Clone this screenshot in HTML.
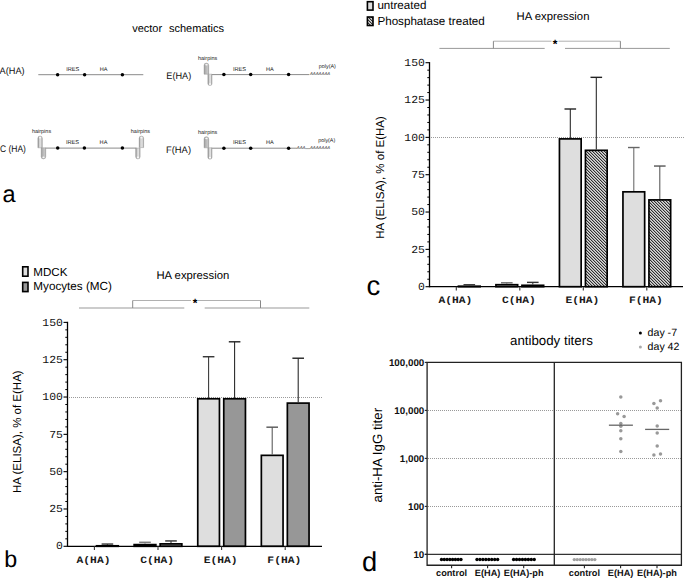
<!DOCTYPE html>
<html><head><meta charset="utf-8"><style>
html,body{margin:0;padding:0;background:#fff;}
body{width:685px;height:579px;overflow:hidden;}
svg{display:block;}

</style></head><body>
<svg width="685" height="579" viewBox="0 0 685 579" style="text-rendering:geometricPrecision">
<rect width="685" height="579" fill="#fff"/>
<text x="132.20" y="31.70" font-size="11" text-anchor="start" font-weight="normal" font-family='"Liberation Sans", sans-serif' fill="#000" >vector</text>
<text x="169.00" y="31.70" font-size="11" text-anchor="start" font-weight="normal" font-family='"Liberation Sans", sans-serif' fill="#000" >schematics</text>
<defs><linearGradient id="hpl" x1="0" x2="1" y1="0" y2="0"><stop offset="0" stop-color="#7a7a7a"/><stop offset="0.3" stop-color="#d0d0d0"/><stop offset="0.7" stop-color="#e4e4e4"/><stop offset="1" stop-color="#909090"/></linearGradient><linearGradient id="hpd" x1="0" x2="1" y1="0" y2="0"><stop offset="0" stop-color="#8c8c8c"/><stop offset="0.35" stop-color="#b8b8b8"/><stop offset="0.75" stop-color="#c4c4c4"/><stop offset="1" stop-color="#9a9a9a"/></linearGradient></defs>
<text x="-0.40" y="73.80" font-size="9.5" textLength="25.00" lengthAdjust="spacingAndGlyphs" font-family='"Liberation Sans", sans-serif' fill="#111">A(HA)</text>
<line x1="38.30" y1="74.70" x2="143.30" y2="74.70" stroke="#8a8a8a" stroke-width="1" />
<circle cx="57.60" cy="74.70" r="1.75" fill="#000"/>
<circle cx="84.60" cy="74.70" r="1.75" fill="#000"/>
<circle cx="122.40" cy="74.70" r="1.75" fill="#000"/>
<text x="66.20" y="70.80" font-size="5.6" text-anchor="start" font-weight="normal" font-family='"Liberation Sans", sans-serif' fill="#222" >IRES</text>
<text x="99.70" y="70.80" font-size="5.6" text-anchor="start" font-weight="normal" font-family='"Liberation Sans", sans-serif' fill="#222" >HA</text>
<text x="-0.10" y="152.00" font-size="9.5" textLength="26.00" lengthAdjust="spacingAndGlyphs" font-family='"Liberation Sans", sans-serif' fill="#111">C (HA)</text>
<line x1="45.50" y1="148.10" x2="136.50" y2="148.10" stroke="#8a8a8a" stroke-width="1" />
<circle cx="57.70" cy="148.10" r="1.75" fill="#000"/>
<circle cx="84.40" cy="148.10" r="1.75" fill="#000"/>
<circle cx="122.40" cy="148.10" r="1.75" fill="#000"/>
<text x="66.00" y="144.00" font-size="5.6" text-anchor="start" font-weight="normal" font-family='"Liberation Sans", sans-serif' fill="#222" >IRES</text>
<text x="99.60" y="144.00" font-size="5.6" text-anchor="start" font-weight="normal" font-family='"Liberation Sans", sans-serif' fill="#222" >HA</text>
<path d="M37.90,147.80 V138.30 A2.20,2.20 0 0 1 42.30,138.30 V147.80 Z" fill="url(#hpl)" stroke="#9a9a9a" stroke-width="0.5"/>
<ellipse cx="40.10" cy="137.80" rx="1.14" ry="0.75" fill="#fff" opacity="0.9"/>
<path d="M41.20,147.80 V156.65 A2.25,2.25 0 0 0 45.70,156.65 V147.80 Z" fill="url(#hpd)" stroke="#9a9a9a" stroke-width="0.5"/>
<ellipse cx="43.45" cy="157.20" rx="1.17" ry="0.75" fill="#fff" opacity="0.9"/>
<path d="M135.70,148.10 V156.70 A2.20,2.20 0 0 0 140.10,156.70 V148.10 Z" fill="url(#hpl)" stroke="#9a9a9a" stroke-width="0.5"/>
<ellipse cx="137.90" cy="157.20" rx="1.14" ry="0.75" fill="#fff" opacity="0.9"/>
<path d="M139.20,147.60 V138.30 A2.20,2.20 0 0 1 143.60,138.30 V147.60 Z" fill="url(#hpl)" stroke="#9a9a9a" stroke-width="0.5"/>
<ellipse cx="141.40" cy="137.80" rx="1.14" ry="0.75" fill="#fff" opacity="0.9"/>
<text x="31.90" y="133.10" font-size="5.5" text-anchor="start" font-weight="normal" font-family='"Liberation Sans", sans-serif' fill="#222" >hairpins</text>
<text x="130.80" y="132.80" font-size="5.5" text-anchor="start" font-weight="normal" font-family='"Liberation Sans", sans-serif' fill="#222" >hairpins</text>
<text x="166.30" y="78.90" font-size="9.5" textLength="25.00" lengthAdjust="spacingAndGlyphs" font-family='"Liberation Sans", sans-serif' fill="#111">E(HA)</text>
<line x1="211.80" y1="74.60" x2="309.30" y2="74.60" stroke="#8a8a8a" stroke-width="1" />
<circle cx="223.90" cy="74.60" r="1.75" fill="#000"/>
<circle cx="250.70" cy="74.60" r="1.75" fill="#000"/>
<circle cx="288.60" cy="74.60" r="1.75" fill="#000"/>
<text x="233.00" y="70.80" font-size="5.6" text-anchor="start" font-weight="normal" font-family='"Liberation Sans", sans-serif' fill="#222" >IRES</text>
<text x="265.90" y="70.80" font-size="5.6" text-anchor="start" font-weight="normal" font-family='"Liberation Sans", sans-serif' fill="#222" >HA</text>
<path d="M204.10,74.20 V65.40 A2.30,2.30 0 0 1 208.70,65.40 V74.20 Z" fill="url(#hpd)" stroke="#9a9a9a" stroke-width="0.5"/>
<ellipse cx="206.40" cy="64.80" rx="1.20" ry="0.75" fill="#fff" opacity="0.9"/>
<path d="M207.90,74.20 V83.55 A2.05,2.05 0 0 0 212.00,83.55 V74.20 Z" fill="url(#hpl)" stroke="#9a9a9a" stroke-width="0.5"/>
<ellipse cx="209.95" cy="83.90" rx="1.07" ry="0.75" fill="#fff" opacity="0.9"/>
<text x="198.00" y="59.90" font-size="5.5" text-anchor="start" font-weight="normal" font-family='"Liberation Sans", sans-serif' fill="#222" >hairpins</text>
<text x="318.80" y="68.10" font-size="5.4" text-anchor="start" font-weight="normal" font-family='"Liberation Sans", sans-serif' fill="#222" >poly(A)</text>
<text x="309.90" y="75.40" font-size="4.35" text-anchor="start" font-weight="normal" font-family='"Liberation Sans", sans-serif' fill="#444" font-style="italic">AAAAAAA</text>
<text x="166.00" y="152.50" font-size="9.5" textLength="25.00" lengthAdjust="spacingAndGlyphs" font-family='"Liberation Sans", sans-serif' fill="#111">F(HA)</text>
<line x1="211.80" y1="148.20" x2="296.80" y2="148.20" stroke="#8a8a8a" stroke-width="1" />
<line x1="305.30" y1="148.60" x2="309.90" y2="148.60" stroke="#8a8a8a" stroke-width="0.8" />
<circle cx="223.90" cy="148.20" r="1.75" fill="#000"/>
<circle cx="250.70" cy="148.20" r="1.75" fill="#000"/>
<circle cx="288.60" cy="148.20" r="1.75" fill="#000"/>
<text x="233.00" y="144.40" font-size="5.6" text-anchor="start" font-weight="normal" font-family='"Liberation Sans", sans-serif' fill="#222" >IRES</text>
<text x="265.90" y="144.40" font-size="5.6" text-anchor="start" font-weight="normal" font-family='"Liberation Sans", sans-serif' fill="#222" >HA</text>
<path d="M204.10,147.80 V139.00 A2.30,2.30 0 0 1 208.70,139.00 V147.80 Z" fill="url(#hpd)" stroke="#9a9a9a" stroke-width="0.5"/>
<ellipse cx="206.40" cy="138.40" rx="1.20" ry="0.75" fill="#fff" opacity="0.9"/>
<path d="M207.90,147.80 V157.15 A2.05,2.05 0 0 0 212.00,157.15 V147.80 Z" fill="url(#hpl)" stroke="#9a9a9a" stroke-width="0.5"/>
<ellipse cx="209.95" cy="157.50" rx="1.07" ry="0.75" fill="#fff" opacity="0.9"/>
<text x="198.00" y="133.50" font-size="5.5" text-anchor="start" font-weight="normal" font-family='"Liberation Sans", sans-serif' fill="#222" >hairpins</text>
<text x="318.20" y="142.30" font-size="5.4" text-anchor="start" font-weight="normal" font-family='"Liberation Sans", sans-serif' fill="#222" >poly(A)</text>
<text x="296.80" y="149.00" font-size="4.35" text-anchor="start" font-weight="normal" font-family='"Liberation Sans", sans-serif' fill="#444" font-style="italic">AAA</text>
<text x="309.90" y="149.00" font-size="4.35" text-anchor="start" font-weight="normal" font-family='"Liberation Sans", sans-serif' fill="#444" font-style="italic">AAAAAAA</text>
<text x="2.50" y="201.80" font-size="23.5" text-anchor="start" font-weight="normal" font-family='"Liberation Sans", sans-serif' fill="#000" >a</text>
<defs><pattern id="hatch" patternUnits="userSpaceOnUse" x="0" y="0" width="3" height="3"><rect width="3" height="3" fill="#dadada"/><rect x="0" y="0" width="1" height="1" fill="#303030"/><rect x="1" y="1" width="1" height="1" fill="#303030"/><rect x="2" y="2" width="1" height="1" fill="#303030"/><rect x="1" y="0" width="1" height="1" fill="#a4a4a4"/><rect x="2" y="1" width="1" height="1" fill="#a4a4a4"/><rect x="0" y="2" width="1" height="1" fill="#a4a4a4"/></pattern></defs>
<path d="M431,137.5 H685.0" stroke="#9a9a9a" stroke-width="1" stroke-dasharray="1 1" fill="none"/>
<rect x="458.45" y="286.21" width="21.70" height="0.49" fill="url(#hatch)" stroke="#000" stroke-width="1.7" />
<line x1="469.30" y1="285.36" x2="469.30" y2="284.76" stroke="#333" stroke-width="1.05" />
<line x1="463.50" y1="284.76" x2="475.10" y2="284.76" stroke="#333" stroke-width="1.4" />
<rect x="495.95" y="284.71" width="21.70" height="1.99" fill="#dedede" stroke="#000" stroke-width="1.7" />
<line x1="506.80" y1="283.86" x2="506.80" y2="282.82" stroke="#666" stroke-width="1.05" />
<line x1="501.00" y1="282.82" x2="512.60" y2="282.82" stroke="#666" stroke-width="1.4" />
<rect x="521.95" y="285.31" width="21.70" height="1.39" fill="url(#hatch)" stroke="#000" stroke-width="1.7" />
<line x1="532.80" y1="284.46" x2="532.80" y2="282.37" stroke="#333" stroke-width="1.05" />
<line x1="527.00" y1="282.37" x2="538.60" y2="282.37" stroke="#333" stroke-width="1.4" />
<rect x="559.45" y="138.89" width="21.70" height="147.81" fill="#dedede" stroke="#000" stroke-width="1.7" />
<line x1="570.30" y1="138.04" x2="570.30" y2="109.00" stroke="#222" stroke-width="1.05" />
<line x1="564.50" y1="109.00" x2="576.10" y2="109.00" stroke="#222" stroke-width="1.4" />
<rect x="585.45" y="150.32" width="21.70" height="136.38" fill="url(#hatch)" stroke="#000" stroke-width="1.7" />
<line x1="596.30" y1="149.47" x2="596.30" y2="77.34" stroke="#222" stroke-width="1.05" />
<line x1="590.50" y1="77.34" x2="602.10" y2="77.34" stroke="#222" stroke-width="1.4" />
<rect x="622.95" y="191.83" width="21.70" height="94.87" fill="#dedede" stroke="#000" stroke-width="1.7" />
<line x1="633.80" y1="190.98" x2="633.80" y2="147.52" stroke="#666" stroke-width="1.05" />
<line x1="628.00" y1="147.52" x2="639.60" y2="147.52" stroke="#666" stroke-width="1.4" />
<rect x="648.95" y="199.89" width="21.70" height="86.81" fill="url(#hatch)" stroke="#000" stroke-width="1.7" />
<line x1="659.80" y1="199.04" x2="659.80" y2="166.04" stroke="#555" stroke-width="1.05" />
<line x1="654.00" y1="166.04" x2="665.60" y2="166.04" stroke="#555" stroke-width="1.4" />
<line x1="429.50" y1="286.70" x2="683.00" y2="286.70" stroke="#000" stroke-width="1.3" />
<line x1="429.50" y1="62.10" x2="429.50" y2="287.30" stroke="#000" stroke-width="1.3" />
<line x1="425.50" y1="286.70" x2="429.50" y2="286.70" stroke="#000" stroke-width="1.1" />
<text transform="translate(424.90,289.85) scale(1.06,1)" font-size="10.8" text-anchor="end" font-family='"Liberation Mono", monospace' fill="#111">0</text>
<line x1="427.30" y1="279.23" x2="429.50" y2="279.23" stroke="#000" stroke-width="1.0" />
<line x1="427.30" y1="271.77" x2="429.50" y2="271.77" stroke="#000" stroke-width="1.0" />
<line x1="427.30" y1="264.30" x2="429.50" y2="264.30" stroke="#000" stroke-width="1.0" />
<line x1="427.30" y1="256.83" x2="429.50" y2="256.83" stroke="#000" stroke-width="1.0" />
<line x1="425.50" y1="249.37" x2="429.50" y2="249.37" stroke="#000" stroke-width="1.1" />
<text transform="translate(424.90,252.52) scale(1.06,1)" font-size="10.8" text-anchor="end" font-family='"Liberation Mono", monospace' fill="#111">25</text>
<line x1="427.30" y1="241.90" x2="429.50" y2="241.90" stroke="#000" stroke-width="1.0" />
<line x1="427.30" y1="234.43" x2="429.50" y2="234.43" stroke="#000" stroke-width="1.0" />
<line x1="427.30" y1="226.97" x2="429.50" y2="226.97" stroke="#000" stroke-width="1.0" />
<line x1="427.30" y1="219.50" x2="429.50" y2="219.50" stroke="#000" stroke-width="1.0" />
<line x1="425.50" y1="212.03" x2="429.50" y2="212.03" stroke="#000" stroke-width="1.1" />
<text transform="translate(424.90,215.18) scale(1.06,1)" font-size="10.8" text-anchor="end" font-family='"Liberation Mono", monospace' fill="#111">50</text>
<line x1="427.30" y1="204.57" x2="429.50" y2="204.57" stroke="#000" stroke-width="1.0" />
<line x1="427.30" y1="197.10" x2="429.50" y2="197.10" stroke="#000" stroke-width="1.0" />
<line x1="427.30" y1="189.64" x2="429.50" y2="189.64" stroke="#000" stroke-width="1.0" />
<line x1="427.30" y1="182.17" x2="429.50" y2="182.17" stroke="#000" stroke-width="1.0" />
<line x1="425.50" y1="174.70" x2="429.50" y2="174.70" stroke="#000" stroke-width="1.1" />
<text transform="translate(424.90,177.85) scale(1.06,1)" font-size="10.8" text-anchor="end" font-family='"Liberation Mono", monospace' fill="#111">75</text>
<line x1="427.30" y1="167.24" x2="429.50" y2="167.24" stroke="#000" stroke-width="1.0" />
<line x1="427.30" y1="159.77" x2="429.50" y2="159.77" stroke="#000" stroke-width="1.0" />
<line x1="427.30" y1="152.30" x2="429.50" y2="152.30" stroke="#000" stroke-width="1.0" />
<line x1="427.30" y1="144.84" x2="429.50" y2="144.84" stroke="#000" stroke-width="1.0" />
<line x1="425.50" y1="137.37" x2="429.50" y2="137.37" stroke="#000" stroke-width="1.1" />
<text transform="translate(424.90,140.52) scale(1.06,1)" font-size="10.8" text-anchor="end" font-family='"Liberation Mono", monospace' fill="#111">100</text>
<line x1="427.30" y1="129.90" x2="429.50" y2="129.90" stroke="#000" stroke-width="1.0" />
<line x1="427.30" y1="122.44" x2="429.50" y2="122.44" stroke="#000" stroke-width="1.0" />
<line x1="427.30" y1="114.97" x2="429.50" y2="114.97" stroke="#000" stroke-width="1.0" />
<line x1="427.30" y1="107.50" x2="429.50" y2="107.50" stroke="#000" stroke-width="1.0" />
<line x1="425.50" y1="100.04" x2="429.50" y2="100.04" stroke="#000" stroke-width="1.1" />
<text transform="translate(424.90,103.19) scale(1.06,1)" font-size="10.8" text-anchor="end" font-family='"Liberation Mono", monospace' fill="#111">125</text>
<line x1="427.30" y1="92.57" x2="429.50" y2="92.57" stroke="#000" stroke-width="1.0" />
<line x1="427.30" y1="85.10" x2="429.50" y2="85.10" stroke="#000" stroke-width="1.0" />
<line x1="427.30" y1="77.64" x2="429.50" y2="77.64" stroke="#000" stroke-width="1.0" />
<line x1="427.30" y1="70.17" x2="429.50" y2="70.17" stroke="#000" stroke-width="1.0" />
<line x1="425.50" y1="62.70" x2="429.50" y2="62.70" stroke="#000" stroke-width="1.1" />
<text transform="translate(424.90,65.85) scale(1.06,1)" font-size="10.8" text-anchor="end" font-family='"Liberation Mono", monospace' fill="#111">150</text>
<line x1="456.30" y1="286.70" x2="456.30" y2="290.50" stroke="#333" stroke-width="1.1" />
<text transform="translate(455.40,303.30) scale(1,0.87)" font-size="11.3" text-anchor="middle" font-weight="bold" font-family='"Liberation Mono", monospace' fill="#1a1a1a">A(HA)</text>
<line x1="519.80" y1="286.70" x2="519.80" y2="290.50" stroke="#333" stroke-width="1.1" />
<text transform="translate(518.90,303.30) scale(1,0.87)" font-size="11.3" text-anchor="middle" font-weight="bold" font-family='"Liberation Mono", monospace' fill="#1a1a1a">C(HA)</text>
<line x1="583.30" y1="286.70" x2="583.30" y2="290.50" stroke="#333" stroke-width="1.1" />
<text transform="translate(582.40,303.30) scale(1,0.87)" font-size="11.3" text-anchor="middle" font-weight="bold" font-family='"Liberation Mono", monospace' fill="#1a1a1a">E(HA)</text>
<line x1="646.80" y1="286.70" x2="646.80" y2="290.50" stroke="#333" stroke-width="1.1" />
<text transform="translate(645.90,303.30) scale(1,0.87)" font-size="11.3" text-anchor="middle" font-weight="bold" font-family='"Liberation Mono", monospace' fill="#1a1a1a">F(HA)</text>
<text x="516.60" y="19.80" font-size="11.3" text-anchor="start" font-weight="normal" font-family='"Liberation Sans", sans-serif' fill="#000" >HA expression</text>
<line x1="439.40" y1="48.40" x2="544.70" y2="48.40" stroke="#999" stroke-width="1" />
<line x1="565.00" y1="48.40" x2="669.80" y2="48.40" stroke="#999" stroke-width="1" />
<line x1="493.40" y1="41.20" x2="551.50" y2="41.20" stroke="#b0b0b0" stroke-width="1" />
<line x1="558.50" y1="41.20" x2="620.40" y2="41.20" stroke="#b0b0b0" stroke-width="1" />
<line x1="493.40" y1="41.20" x2="493.40" y2="48.40" stroke="#888" stroke-width="1" />
<line x1="620.40" y1="41.20" x2="620.40" y2="48.40" stroke="#888" stroke-width="1" />
<text x="555.00" y="47.50" font-size="12" text-anchor="middle" font-weight="bold" font-family='"Liberation Sans", sans-serif' fill="#000" >*</text>
<rect x="367.40" y="1.70" width="5.60" height="8.40" fill="#dedede" stroke="#000" stroke-width="1.6" />
<rect x="367.40" y="17.00" width="5.60" height="8.50" fill="url(#hatch)" stroke="#000" stroke-width="1.6" />
<text x="377.40" y="9.20" font-size="11.6" text-anchor="start" font-weight="normal" font-family='"Liberation Sans", sans-serif' fill="#000" >untreated</text>
<text x="377.40" y="24.50" font-size="11.65" text-anchor="start" font-weight="normal" font-family='"Liberation Sans", sans-serif' fill="#000" >Phosphatase treated</text>
<text transform="translate(383.5,177.5) rotate(-90)" font-size="11.5" text-anchor="middle" font-family='"Liberation Sans", sans-serif'>HA (ELISA), % of E(HA)</text>
<text x="366.60" y="295.00" font-size="27.5" text-anchor="start" font-weight="normal" font-family='"Liberation Sans", sans-serif' fill="#000" >c</text>
<path d="M69,397.5 H322.0" stroke="#9a9a9a" stroke-width="1" stroke-dasharray="1 1" fill="none"/>
<rect x="96.55" y="545.81" width="21.70" height="0.49" fill="#979797" stroke="#000" stroke-width="1.7" />
<line x1="107.40" y1="544.96" x2="107.40" y2="544.06" stroke="#333" stroke-width="1.05" />
<line x1="101.60" y1="544.06" x2="113.20" y2="544.06" stroke="#333" stroke-width="1.4" />
<rect x="134.15" y="544.61" width="21.70" height="1.69" fill="#dedede" stroke="#000" stroke-width="1.7" />
<line x1="145.00" y1="543.76" x2="145.00" y2="542.27" stroke="#777" stroke-width="1.05" />
<line x1="139.20" y1="542.27" x2="150.80" y2="542.27" stroke="#777" stroke-width="1.4" />
<rect x="160.15" y="543.87" width="21.70" height="2.43" fill="#979797" stroke="#000" stroke-width="1.7" />
<line x1="171.00" y1="543.02" x2="171.00" y2="540.93" stroke="#333" stroke-width="1.05" />
<line x1="165.20" y1="540.93" x2="176.80" y2="540.93" stroke="#333" stroke-width="1.4" />
<rect x="197.75" y="398.78" width="21.70" height="147.52" fill="#dedede" stroke="#000" stroke-width="1.7" />
<line x1="208.60" y1="397.93" x2="208.60" y2="356.73" stroke="#333" stroke-width="1.05" />
<line x1="202.80" y1="356.73" x2="214.40" y2="356.73" stroke="#333" stroke-width="1.4" />
<rect x="223.75" y="398.78" width="21.70" height="147.52" fill="#979797" stroke="#000" stroke-width="1.7" />
<line x1="234.60" y1="397.93" x2="234.60" y2="341.80" stroke="#222" stroke-width="1.05" />
<line x1="228.80" y1="341.80" x2="240.40" y2="341.80" stroke="#222" stroke-width="1.4" />
<rect x="261.35" y="455.35" width="21.70" height="90.95" fill="#dedede" stroke="#000" stroke-width="1.7" />
<line x1="272.20" y1="454.50" x2="272.20" y2="427.18" stroke="#555" stroke-width="1.05" />
<line x1="266.40" y1="427.18" x2="278.00" y2="427.18" stroke="#555" stroke-width="1.4" />
<rect x="287.35" y="403.10" width="21.70" height="143.20" fill="#979797" stroke="#000" stroke-width="1.7" />
<line x1="298.20" y1="402.25" x2="298.20" y2="358.22" stroke="#222" stroke-width="1.05" />
<line x1="292.40" y1="358.22" x2="304.00" y2="358.22" stroke="#222" stroke-width="1.4" />
<line x1="67.50" y1="546.30" x2="322.00" y2="546.30" stroke="#000" stroke-width="1.3" />
<line x1="67.50" y1="321.79" x2="67.50" y2="546.90" stroke="#000" stroke-width="1.3" />
<line x1="63.50" y1="546.30" x2="67.50" y2="546.30" stroke="#000" stroke-width="1.1" />
<text transform="translate(62.90,549.45) scale(1.06,1)" font-size="10.8" text-anchor="end" font-family='"Liberation Mono", monospace' fill="#111">0</text>
<line x1="65.30" y1="538.84" x2="67.50" y2="538.84" stroke="#000" stroke-width="1.0" />
<line x1="65.30" y1="531.37" x2="67.50" y2="531.37" stroke="#000" stroke-width="1.0" />
<line x1="65.30" y1="523.91" x2="67.50" y2="523.91" stroke="#000" stroke-width="1.0" />
<line x1="65.30" y1="516.45" x2="67.50" y2="516.45" stroke="#000" stroke-width="1.0" />
<line x1="63.50" y1="508.98" x2="67.50" y2="508.98" stroke="#000" stroke-width="1.1" />
<text transform="translate(62.90,512.13) scale(1.06,1)" font-size="10.8" text-anchor="end" font-family='"Liberation Mono", monospace' fill="#111">25</text>
<line x1="65.30" y1="501.52" x2="67.50" y2="501.52" stroke="#000" stroke-width="1.0" />
<line x1="65.30" y1="494.06" x2="67.50" y2="494.06" stroke="#000" stroke-width="1.0" />
<line x1="65.30" y1="486.59" x2="67.50" y2="486.59" stroke="#000" stroke-width="1.0" />
<line x1="65.30" y1="479.13" x2="67.50" y2="479.13" stroke="#000" stroke-width="1.0" />
<line x1="63.50" y1="471.66" x2="67.50" y2="471.66" stroke="#000" stroke-width="1.1" />
<text transform="translate(62.90,474.81) scale(1.06,1)" font-size="10.8" text-anchor="end" font-family='"Liberation Mono", monospace' fill="#111">50</text>
<line x1="65.30" y1="464.20" x2="67.50" y2="464.20" stroke="#000" stroke-width="1.0" />
<line x1="65.30" y1="456.74" x2="67.50" y2="456.74" stroke="#000" stroke-width="1.0" />
<line x1="65.30" y1="449.27" x2="67.50" y2="449.27" stroke="#000" stroke-width="1.0" />
<line x1="65.30" y1="441.81" x2="67.50" y2="441.81" stroke="#000" stroke-width="1.0" />
<line x1="63.50" y1="434.35" x2="67.50" y2="434.35" stroke="#000" stroke-width="1.1" />
<text transform="translate(62.90,437.50) scale(1.06,1)" font-size="10.8" text-anchor="end" font-family='"Liberation Mono", monospace' fill="#111">75</text>
<line x1="65.30" y1="426.88" x2="67.50" y2="426.88" stroke="#000" stroke-width="1.0" />
<line x1="65.30" y1="419.42" x2="67.50" y2="419.42" stroke="#000" stroke-width="1.0" />
<line x1="65.30" y1="411.96" x2="67.50" y2="411.96" stroke="#000" stroke-width="1.0" />
<line x1="65.30" y1="404.49" x2="67.50" y2="404.49" stroke="#000" stroke-width="1.0" />
<line x1="63.50" y1="397.03" x2="67.50" y2="397.03" stroke="#000" stroke-width="1.1" />
<text transform="translate(62.90,400.18) scale(1.06,1)" font-size="10.8" text-anchor="end" font-family='"Liberation Mono", monospace' fill="#111">100</text>
<line x1="65.30" y1="389.57" x2="67.50" y2="389.57" stroke="#000" stroke-width="1.0" />
<line x1="65.30" y1="382.10" x2="67.50" y2="382.10" stroke="#000" stroke-width="1.0" />
<line x1="65.30" y1="374.64" x2="67.50" y2="374.64" stroke="#000" stroke-width="1.0" />
<line x1="65.30" y1="367.18" x2="67.50" y2="367.18" stroke="#000" stroke-width="1.0" />
<line x1="63.50" y1="359.71" x2="67.50" y2="359.71" stroke="#000" stroke-width="1.1" />
<text transform="translate(62.90,362.86) scale(1.06,1)" font-size="10.8" text-anchor="end" font-family='"Liberation Mono", monospace' fill="#111">125</text>
<line x1="65.30" y1="352.25" x2="67.50" y2="352.25" stroke="#000" stroke-width="1.0" />
<line x1="65.30" y1="344.79" x2="67.50" y2="344.79" stroke="#000" stroke-width="1.0" />
<line x1="65.30" y1="337.32" x2="67.50" y2="337.32" stroke="#000" stroke-width="1.0" />
<line x1="65.30" y1="329.86" x2="67.50" y2="329.86" stroke="#000" stroke-width="1.0" />
<line x1="63.50" y1="322.39" x2="67.50" y2="322.39" stroke="#000" stroke-width="1.1" />
<text transform="translate(62.90,325.54) scale(1.06,1)" font-size="10.8" text-anchor="end" font-family='"Liberation Mono", monospace' fill="#111">150</text>
<line x1="94.40" y1="546.30" x2="94.40" y2="550.10" stroke="#333" stroke-width="1.1" />
<text transform="translate(93.50,562.90) scale(1,0.87)" font-size="11.3" text-anchor="middle" font-weight="bold" font-family='"Liberation Mono", monospace' fill="#1a1a1a">A(HA)</text>
<line x1="158.00" y1="546.30" x2="158.00" y2="550.10" stroke="#333" stroke-width="1.1" />
<text transform="translate(157.10,562.90) scale(1,0.87)" font-size="11.3" text-anchor="middle" font-weight="bold" font-family='"Liberation Mono", monospace' fill="#1a1a1a">C(HA)</text>
<line x1="221.60" y1="546.30" x2="221.60" y2="550.10" stroke="#333" stroke-width="1.1" />
<text transform="translate(220.70,562.90) scale(1,0.87)" font-size="11.3" text-anchor="middle" font-weight="bold" font-family='"Liberation Mono", monospace' fill="#1a1a1a">E(HA)</text>
<line x1="285.20" y1="546.30" x2="285.20" y2="550.10" stroke="#333" stroke-width="1.1" />
<text transform="translate(284.30,562.90) scale(1,0.87)" font-size="11.3" text-anchor="middle" font-weight="bold" font-family='"Liberation Mono", monospace' fill="#1a1a1a">F(HA)</text>
<text x="156.40" y="279.30" font-size="11.3" text-anchor="start" font-weight="normal" font-family='"Liberation Sans", sans-serif' fill="#000" >HA expression</text>
<line x1="79.00" y1="308.00" x2="184.30" y2="308.00" stroke="#999" stroke-width="1" />
<line x1="204.70" y1="308.00" x2="309.30" y2="308.00" stroke="#999" stroke-width="1" />
<line x1="132.70" y1="300.50" x2="191.00" y2="300.50" stroke="#b0b0b0" stroke-width="1" />
<line x1="198.00" y1="300.50" x2="260.50" y2="300.50" stroke="#b0b0b0" stroke-width="1" />
<line x1="132.70" y1="300.50" x2="132.70" y2="308.00" stroke="#888" stroke-width="1" />
<line x1="260.50" y1="300.50" x2="260.50" y2="308.00" stroke="#888" stroke-width="1" />
<text x="195.00" y="306.70" font-size="12" text-anchor="middle" font-weight="bold" font-family='"Liberation Sans", sans-serif' fill="#000" >*</text>
<rect x="22.70" y="266.80" width="5.30" height="9.40" fill="#dedede" stroke="#000" stroke-width="1.6" />
<rect x="22.70" y="282.40" width="5.30" height="9.20" fill="#979797" stroke="#000" stroke-width="1.6" />
<text x="33.30" y="275.50" font-size="11.6" text-anchor="start" font-weight="normal" font-family='"Liberation Sans", sans-serif' fill="#000" >MDCK</text>
<text x="33.30" y="290.00" font-size="11.7" text-anchor="start" font-weight="normal" font-family='"Liberation Sans", sans-serif' fill="#000" >Myocytes (MC)</text>
<text transform="translate(21.3,431.7) rotate(-90)" font-size="11.5" text-anchor="middle" font-family='"Liberation Sans", sans-serif'>HA (ELISA), % of E(HA)</text>
<text x="4.30" y="567.40" font-size="23.3" text-anchor="start" font-weight="normal" font-family='"Liberation Sans", sans-serif' fill="#000" >b</text>
<path d="M428,506.5 H681" stroke="#999" stroke-width="1" stroke-dasharray="1 1" stroke-dashoffset="0" fill="none"/>
<path d="M428,458.5 H681" stroke="#999" stroke-width="1" stroke-dasharray="1 1" stroke-dashoffset="0" fill="none"/>
<path d="M428,410.5 H681" stroke="#999" stroke-width="1" stroke-dasharray="1 1" stroke-dashoffset="0" fill="none"/>
<line x1="424.80" y1="554.40" x2="681.40" y2="554.40" stroke="#333" stroke-width="1.1" />
<path d="M427.1,362.45 H681.4 V565.25 H427.1 Z" fill="none" stroke="#222" stroke-width="1.3"/>
<line x1="554.30" y1="362.45" x2="554.30" y2="565.25" stroke="#222" stroke-width="1.3" />
<line x1="424.80" y1="362.40" x2="427.10" y2="362.40" stroke="#222" stroke-width="1.1" />
<text x="424.30" y="365.85" font-size="9.8" text-anchor="end" font-weight="bold" font-family='"Liberation Sans", sans-serif' fill="#111" >100,000</text>
<line x1="424.80" y1="410.40" x2="427.10" y2="410.40" stroke="#222" stroke-width="1.1" />
<text x="424.30" y="413.85" font-size="9.8" text-anchor="end" font-weight="bold" font-family='"Liberation Sans", sans-serif' fill="#111" >10,000</text>
<line x1="424.80" y1="458.40" x2="427.10" y2="458.40" stroke="#222" stroke-width="1.1" />
<text x="424.30" y="461.85" font-size="9.8" text-anchor="end" font-weight="bold" font-family='"Liberation Sans", sans-serif' fill="#111" >1,000</text>
<line x1="424.80" y1="506.40" x2="427.10" y2="506.40" stroke="#222" stroke-width="1.1" />
<text x="424.30" y="509.85" font-size="9.8" text-anchor="end" font-weight="bold" font-family='"Liberation Sans", sans-serif' fill="#111" >100</text>
<line x1="424.80" y1="554.40" x2="427.10" y2="554.40" stroke="#222" stroke-width="1.1" />
<text x="424.30" y="557.85" font-size="9.8" text-anchor="end" font-weight="bold" font-family='"Liberation Sans", sans-serif' fill="#111" >10</text>
<line x1="451.60" y1="565.25" x2="451.60" y2="568.25" stroke="#222" stroke-width="1.1" />
<text x="451.60" y="576.00" font-size="9.2" text-anchor="middle" font-weight="bold" font-family='"Liberation Sans", sans-serif' fill="#111" >control</text>
<line x1="487.60" y1="565.25" x2="487.60" y2="568.25" stroke="#222" stroke-width="1.1" />
<text x="487.60" y="576.00" font-size="9.2" text-anchor="middle" font-weight="bold" font-family='"Liberation Sans", sans-serif' fill="#111" >E(HA)</text>
<line x1="523.70" y1="565.25" x2="523.70" y2="568.25" stroke="#222" stroke-width="1.1" />
<text x="523.70" y="576.00" font-size="9.2" text-anchor="middle" font-weight="bold" font-family='"Liberation Sans", sans-serif' fill="#111" >E(HA)-ph</text>
<line x1="584.40" y1="565.25" x2="584.40" y2="568.25" stroke="#222" stroke-width="1.1" />
<text x="584.40" y="576.00" font-size="9.2" text-anchor="middle" font-weight="bold" font-family='"Liberation Sans", sans-serif' fill="#111" >control</text>
<line x1="620.60" y1="565.25" x2="620.60" y2="568.25" stroke="#222" stroke-width="1.1" />
<text x="620.60" y="576.00" font-size="9.2" text-anchor="middle" font-weight="bold" font-family='"Liberation Sans", sans-serif' fill="#111" >E(HA)</text>
<line x1="657.00" y1="565.25" x2="657.00" y2="568.25" stroke="#222" stroke-width="1.1" />
<text x="657.00" y="576.00" font-size="9.2" text-anchor="middle" font-weight="bold" font-family='"Liberation Sans", sans-serif' fill="#111" >E(HA)-ph</text>
<circle cx="441.50" cy="559.50" r="1.7" fill="#000"/>
<circle cx="444.28" cy="559.50" r="1.7" fill="#000"/>
<circle cx="447.06" cy="559.50" r="1.7" fill="#000"/>
<circle cx="449.84" cy="559.50" r="1.7" fill="#000"/>
<circle cx="452.62" cy="559.50" r="1.7" fill="#000"/>
<circle cx="455.40" cy="559.50" r="1.7" fill="#000"/>
<circle cx="458.18" cy="559.50" r="1.7" fill="#000"/>
<circle cx="460.96" cy="559.50" r="1.7" fill="#000"/>
<circle cx="477.00" cy="559.50" r="1.7" fill="#000"/>
<circle cx="479.95" cy="559.50" r="1.7" fill="#000"/>
<circle cx="482.90" cy="559.50" r="1.7" fill="#000"/>
<circle cx="485.85" cy="559.50" r="1.7" fill="#000"/>
<circle cx="488.80" cy="559.50" r="1.7" fill="#000"/>
<circle cx="491.75" cy="559.50" r="1.7" fill="#000"/>
<circle cx="494.70" cy="559.50" r="1.7" fill="#000"/>
<circle cx="497.65" cy="559.50" r="1.7" fill="#000"/>
<circle cx="513.60" cy="559.50" r="1.7" fill="#000"/>
<circle cx="516.55" cy="559.50" r="1.7" fill="#000"/>
<circle cx="519.50" cy="559.50" r="1.7" fill="#000"/>
<circle cx="522.45" cy="559.50" r="1.7" fill="#000"/>
<circle cx="525.40" cy="559.50" r="1.7" fill="#000"/>
<circle cx="528.35" cy="559.50" r="1.7" fill="#000"/>
<circle cx="531.30" cy="559.50" r="1.7" fill="#000"/>
<circle cx="534.25" cy="559.50" r="1.7" fill="#000"/>
<circle cx="574.30" cy="559.60" r="1.7" fill="#a0a0a0"/>
<circle cx="577.23" cy="559.60" r="1.7" fill="#a0a0a0"/>
<circle cx="580.16" cy="559.60" r="1.7" fill="#a0a0a0"/>
<circle cx="583.09" cy="559.60" r="1.7" fill="#a0a0a0"/>
<circle cx="586.02" cy="559.60" r="1.7" fill="#a0a0a0"/>
<circle cx="588.95" cy="559.60" r="1.7" fill="#a0a0a0"/>
<circle cx="591.88" cy="559.60" r="1.7" fill="#a0a0a0"/>
<circle cx="594.81" cy="559.60" r="1.7" fill="#a0a0a0"/>
<circle cx="620.80" cy="397.10" r="1.75" fill="#999"/>
<circle cx="617.60" cy="413.70" r="1.75" fill="#999"/>
<circle cx="624.10" cy="416.40" r="1.75" fill="#999"/>
<circle cx="620.80" cy="423.50" r="1.75" fill="#999"/>
<circle cx="620.80" cy="426.30" r="1.75" fill="#999"/>
<circle cx="620.80" cy="430.80" r="1.75" fill="#999"/>
<circle cx="620.80" cy="438.70" r="1.75" fill="#999"/>
<circle cx="620.80" cy="451.60" r="1.75" fill="#999"/>
<circle cx="660.50" cy="400.70" r="1.75" fill="#999"/>
<circle cx="653.90" cy="403.50" r="1.75" fill="#999"/>
<circle cx="657.20" cy="408.10" r="1.75" fill="#999"/>
<circle cx="657.20" cy="426.00" r="1.75" fill="#999"/>
<circle cx="657.20" cy="433.10" r="1.75" fill="#999"/>
<circle cx="657.20" cy="445.90" r="1.75" fill="#999"/>
<circle cx="653.90" cy="454.90" r="1.75" fill="#999"/>
<circle cx="660.50" cy="454.00" r="1.75" fill="#999"/>
<line x1="608.90" y1="425.20" x2="632.90" y2="425.20" stroke="#666" stroke-width="1.3" />
<line x1="645.10" y1="429.40" x2="669.20" y2="429.40" stroke="#666" stroke-width="1.3" />
<text x="510.00" y="345.30" font-size="13.3" text-anchor="start" font-weight="normal" font-family='"Liberation Sans", sans-serif' fill="#000" >antibody titers</text>
<circle cx="640.40" cy="333.00" r="1.5" fill="#000"/>
<circle cx="640.40" cy="347.00" r="1.5" fill="#aaa"/>
<text x="647.60" y="336.30" font-size="10.6" text-anchor="start" font-weight="normal" font-family='"Liberation Sans", sans-serif' fill="#000" >day -7</text>
<text x="647.60" y="350.30" font-size="10.6" text-anchor="start" font-weight="normal" font-family='"Liberation Sans", sans-serif' fill="#000" >day 42</text>
<text transform="translate(382.1,455.2) rotate(-90)" font-size="13.3" text-anchor="middle" font-family='"Liberation Sans", sans-serif'>anti-HA IgG titer</text>
<text x="362.00" y="570.50" font-size="27.3" text-anchor="start" font-weight="normal" font-family='"Liberation Sans", sans-serif' fill="#000" >d</text>
</svg>
</body></html>
